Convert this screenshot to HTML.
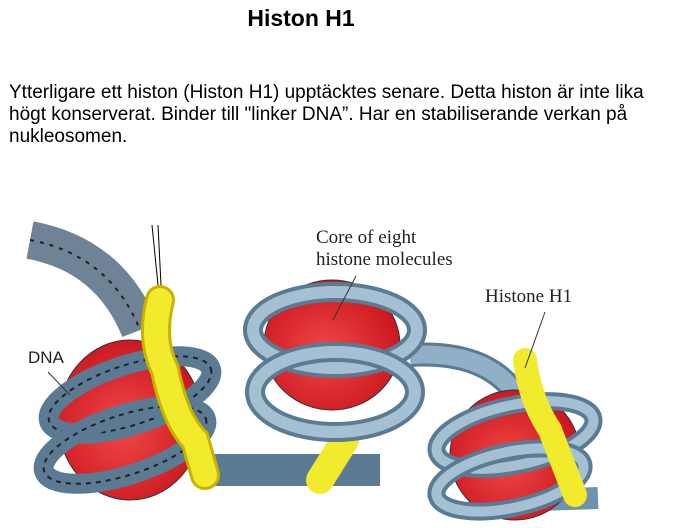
<!DOCTYPE html>
<html><head><meta charset="utf-8"><style>
body{margin:0;width:686px;height:528px;background:#fff;overflow:hidden;position:relative;font-family:"Liberation Sans",Arial,sans-serif}
h1{position:absolute;top:5px;left:0;width:602px;text-align:center;font-size:23px;font-weight:bold;margin:0}
p{position:absolute;top:82px;left:9px;font-size:19px;line-height:22px;margin:0;color:#000;white-space:nowrap}
svg{position:absolute;left:0;top:0}
</style></head><body>
<h1>Histon H1</h1>
<p>Ytterligare ett histon (Histon H1) upptäcktes senare. Detta histon är inte lika<br>högt konserverat. Binder till "linker DNA”. Har en stabiliserande verkan på<br>nukleosomen.</p>
<svg width="686" height="528" viewBox="0 0 686 528">
<defs>
<linearGradient id="b" x1="0" y1="0" x2="0" y2="1"><stop offset="0" stop-color="#a9c3d6"/><stop offset="1" stop-color="#5f86a3"/></linearGradient>
<radialGradient id="r" cx="0.45" cy="0.55" r="0.6"><stop offset="0" stop-color="#f04848"/><stop offset="1" stop-color="#c8141c"/></radialGradient>
</defs>
<path d="M30 240 Q110 255 140 330" stroke="#6f8397" stroke-width="38" fill="none"/>
<path d="M30 240 Q110 255 140 330" stroke="#222" stroke-width="2" stroke-dasharray="4 6" fill="none"/>
<line x1="152" y1="225" x2="160" y2="305" stroke="#000" stroke-width="1"/>
<line x1="158" y1="225" x2="162" y2="305" stroke="#000" stroke-width="1"/>
<path d="M200 470 L380 470" stroke="#5b7a93" stroke-width="32" fill="none"/>
<path d="M200 470 L380 470" stroke="url(#b)" stroke-width="26" fill="none"/>
<path d="M410 355 Q490 350 520 400" stroke="#5b7a93" stroke-width="24" fill="none"/>
<path d="M410 355 Q490 350 520 400" stroke="#8fb0c6" stroke-width="18" fill="none"/>
<path d="M540 500 L598 498" stroke="#6f93ad" stroke-width="22" fill="none"/>
<ellipse cx="130" cy="420" rx="72" ry="80" fill="url(#r)" stroke="#333"/>
<ellipse cx="130" cy="395" rx="85" ry="30" fill="none" stroke="#5b7a93" stroke-width="20" transform="rotate(-18 130 395)"/>
<ellipse cx="130" cy="395" rx="85" ry="30" fill="none" stroke="#222" stroke-width="2" stroke-dasharray="5 5" transform="rotate(-18 130 395)"/>
<ellipse cx="125" cy="445" rx="85" ry="30" fill="none" stroke="#5b7a93" stroke-width="20" transform="rotate(-18 125 445)"/>
<ellipse cx="125" cy="445" rx="85" ry="30" fill="none" stroke="#222" stroke-width="2" stroke-dasharray="5 5" transform="rotate(-18 125 445)"/>
<path d="M160 300 Q150 340 165 370 Q175 420 195 440 L205 475" stroke="#c8b400" stroke-width="30" fill="none" stroke-linecap="round"/>
<path d="M160 300 Q150 340 165 370 Q175 420 195 440 L205 475" stroke="#f2ea2c" stroke-width="24" fill="none" stroke-linecap="round"/>
<path d="M345 440 L320 480" stroke="#f2ea2c" stroke-width="28" stroke-linecap="round"/>
<ellipse cx="332" cy="345" rx="68" ry="65" fill="url(#r)" stroke="#333"/>
<ellipse cx="335" cy="330" rx="82" ry="38" fill="none" stroke="#5b7a93" stroke-width="20"/>
<ellipse cx="335" cy="330" rx="82" ry="38" fill="none" stroke="#a5c0d3" stroke-width="12"/>
<ellipse cx="335" cy="392" rx="80" ry="40" fill="none" stroke="#5b7a93" stroke-width="20"/>
<ellipse cx="335" cy="392" rx="80" ry="40" fill="none" stroke="#a5c0d3" stroke-width="12"/>
<ellipse cx="515" cy="455" rx="65" ry="65" fill="url(#r)" stroke="#333"/>
<ellipse cx="515" cy="435" rx="80" ry="30" fill="none" stroke="#5b7a93" stroke-width="18" transform="rotate(-12 515 435)"/>
<ellipse cx="515" cy="435" rx="80" ry="30" fill="none" stroke="#a5c0d3" stroke-width="10" transform="rotate(-12 515 435)"/>
<ellipse cx="510" cy="480" rx="75" ry="28" fill="none" stroke="#5b7a93" stroke-width="18" transform="rotate(-12 510 480)"/>
<ellipse cx="510" cy="480" rx="75" ry="28" fill="none" stroke="#a5c0d3" stroke-width="10" transform="rotate(-12 510 480)"/>
<path d="M525 360 Q530 400 550 430 L575 495" stroke="#f2ea2c" stroke-width="24" fill="none" stroke-linecap="round"/>
<g font-family="Liberation Serif,serif" font-size="19" fill="#222">
<text x="316" y="243">Core of eight</text>
<text x="316" y="265">histone molecules</text>
<text x="485" y="302">Histone H1</text>
</g>
<text x="28" y="363" font-size="17" fill="#222">DNA</text>
<line x1="356" y1="276" x2="333" y2="320" stroke="#333"/>
<line x1="545" y1="312" x2="525" y2="368" stroke="#333"/>
<line x1="48" y1="372" x2="70" y2="395" stroke="#333"/>
</svg>
</body></html>
